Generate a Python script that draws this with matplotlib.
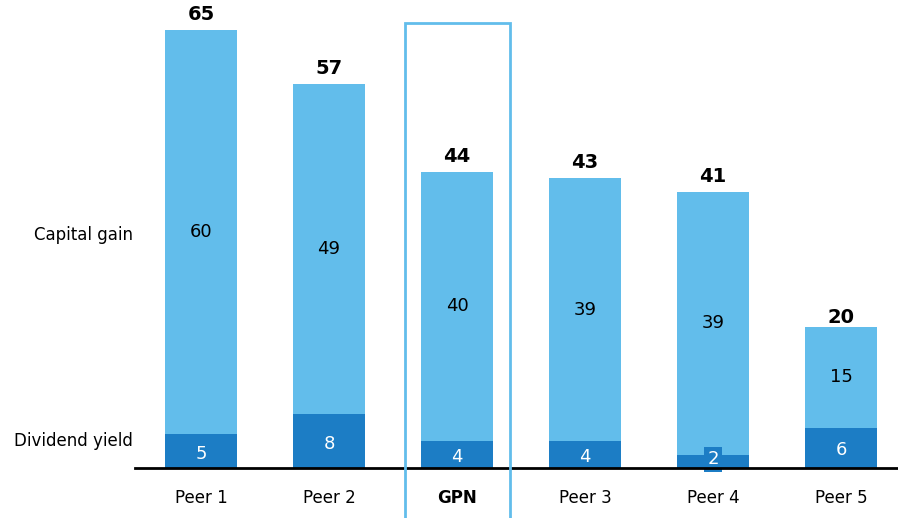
import matplotlib.pyplot as plt
from matplotlib.patches import Rectangle
import matplotlib.transforms as mtransforms

companies = ['Peer 1', 'Peer 2', 'GPN', 'Peer 3', 'Peer 4', 'Peer 5']
dividend_yield = [5, 8, 4, 4, 2, 6]
capital_gain = [60, 49, 40, 39, 39, 15]
totals = [65, 57, 44, 43, 41, 20]

light = '#62BDEB'
dark = '#1C7DC5'

plt.rcParams['font.family'] = ['DejaVu Sans']

fig = plt.figure(figsize=(8.98, 5.18), dpi=100)
ax = fig.add_axes([135 / 898, 50 / 518, 763 / 898, 468 / 518])

x = list(range(len(companies)))
ax.bar(x, dividend_yield, width=0.56, color=dark, zorder=2)
ax.bar(x, capital_gain, bottom=dividend_yield, width=0.56, color=light, zorder=2)

for i in x:
    d = dividend_yield[i]
    c = capital_gain[i]
    if d < 3:
        ax.text(i, 1.3, str(d), ha='center', va='center', fontsize=13,
                color='white', zorder=4,
                bbox=dict(boxstyle='square,pad=0.2', fc=dark, ec='none'))
    else:
        ax.text(i, d / 2 - 0.4, str(d), ha='center', va='center', fontsize=13,
                color='white', zorder=4)
    ax.text(i, d + c / 2, str(c), ha='center', va='center', fontsize=13,
            color='black', zorder=4)
    ax.text(i, totals[i] + 0.9, str(totals[i]), ha='center', va='bottom',
            fontsize=14, fontweight='bold', color='black', zorder=4)

ax.set_xlim(-0.516, 5.445)
ax.set_ylim(0, 69.5)
ax.set_xticks(x)
ax.set_xticklabels(companies, fontsize=12)
ax.get_xticklabels()[2].set_fontweight('bold')
ax.tick_params(axis='x', length=0, pad=15)
ax.set_yticks([])
for s in ['top', 'right', 'left']:
    ax.spines[s].set_visible(False)
ax.spines['bottom'].set_linewidth(2)
ax.spines['bottom'].set_zorder(5)

# highlight box around GPN
ax.add_patch(Rectangle((2 - 0.41, -10), 0.82, 76.1, fill=False,
                       edgecolor=light, linewidth=2, clip_on=False, zorder=6))

# row labels on the left
trans = mtransforms.blended_transform_factory(fig.transFigure, ax.transData)
ax.text(133 / 898, 34.6, 'Capital gain', transform=trans, ha='right',
        va='center', fontsize=12)
ax.text(133 / 898, 4.0, 'Dividend yield', transform=trans, ha='right',
        va='center', fontsize=12)

fig.savefig('out.png', dpi=100)
